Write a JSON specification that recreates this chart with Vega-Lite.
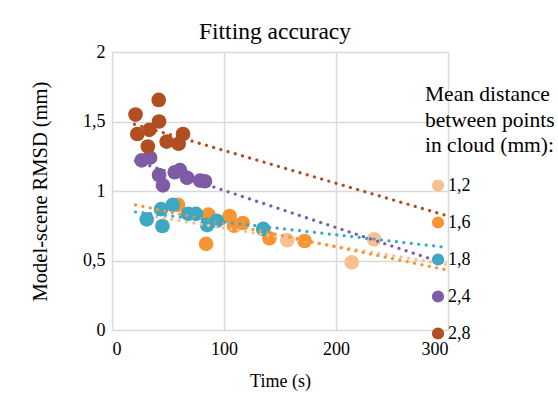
{
  "$schema": "https://vega.github.io/schema/vega-lite/v6.json",
  "autosize": "none",
  "width": 336,
  "height": 278,
  "padding": {"left": 112, "top": 52, "right": 110, "bottom": 69},
  "background": "white",
  "title": {"text": "Fitting accuracy", "font": "Liberation Serif", "fontSize": 23.5, "fontWeight": "normal", "color": "#000000", "anchor": "middle", "offset": 0, "dx": -5},
  "config": {
    "font": "Liberation Serif",
    "view": {"stroke": null},
    "axis": {"labelFont": "Liberation Serif", "titleFont": "Liberation Serif", "labelColor": "#000", "titleColor": "#000", "labelFontSize": 18, "titleFontSize": 18, "titleFontWeight": "normal", "gridColor": "#d9d9d9", "gridWidth": 1.5, "domain": false, "ticks": false}
  },
  "datasets": {
    "points": [
      {"d": "1,2", "t": 156.5, "v": 0.647},
      {"d": "1,2", "t": 214, "v": 0.487},
      {"d": "1,2", "t": 234, "v": 0.652},
      {"d": "1,6", "t": 59, "v": 0.90},
      {"d": "1,6", "t": 86, "v": 0.83},
      {"d": "1,6", "t": 84, "v": 0.62},
      {"d": "1,6", "t": 105, "v": 0.82},
      {"d": "1,6", "t": 109, "v": 0.75},
      {"d": "1,6", "t": 116.7, "v": 0.77},
      {"d": "1,6", "t": 140.5, "v": 0.66},
      {"d": "1,6", "t": 172, "v": 0.64},
      {"d": "1,8", "t": 31, "v": 0.796},
      {"d": "1,8", "t": 45, "v": 0.748},
      {"d": "1,8", "t": 43.8, "v": 0.87},
      {"d": "1,8", "t": 54.2, "v": 0.90},
      {"d": "1,8", "t": 68, "v": 0.835},
      {"d": "1,8", "t": 75, "v": 0.835},
      {"d": "1,8", "t": 85, "v": 0.755},
      {"d": "1,8", "t": 93.5, "v": 0.786},
      {"d": "1,8", "t": 135, "v": 0.727},
      {"d": "2,4", "t": 26.5, "v": 1.22},
      {"d": "2,4", "t": 34, "v": 1.24},
      {"d": "2,4", "t": 42, "v": 1.115},
      {"d": "2,4", "t": 45.5, "v": 1.04},
      {"d": "2,4", "t": 56, "v": 1.135},
      {"d": "2,4", "t": 60.7, "v": 1.15},
      {"d": "2,4", "t": 67, "v": 1.095},
      {"d": "2,4", "t": 78.6, "v": 1.075},
      {"d": "2,4", "t": 83, "v": 1.07},
      {"d": "2,8", "t": 21, "v": 1.55},
      {"d": "2,8", "t": 22.6, "v": 1.41},
      {"d": "2,8", "t": 33.3, "v": 1.44},
      {"d": "2,8", "t": 32, "v": 1.32},
      {"d": "2,8", "t": 41.7, "v": 1.655},
      {"d": "2,8", "t": 42, "v": 1.50},
      {"d": "2,8", "t": 48.8, "v": 1.355},
      {"d": "2,8", "t": 59.5, "v": 1.34},
      {"d": "2,8", "t": 63.4, "v": 1.41}
    ],
    "trends": [
      {"d": "1,2", "t": 40, "v": 0.813},
      {"d": "1,2", "t": 300, "v": 0.47},
      {"d": "1,6", "t": 21, "v": 0.90},
      {"d": "1,6", "t": 300, "v": 0.43},
      {"d": "1,8", "t": 21, "v": 0.849},
      {"d": "1,8", "t": 300, "v": 0.593},
      {"d": "2,4", "t": 21, "v": 1.215},
      {"d": "2,4", "t": 300, "v": 0.47},
      {"d": "2,8", "t": 20, "v": 1.48},
      {"d": "2,8", "t": 300, "v": 0.82}
    ]
  },
  "layer": [
    {
      "data": {"name": "points"},
      "mark": {"type": "circle", "size": 215, "opacity": 1},
      "encoding": {
        "x": {"field": "t", "type": "quantitative", "scale": {"domain": [0, 300], "nice": false}, "axis": {"values": [0, 100, 200, 300], "title": "Time (s)", "labelPadding": 10, "titlePadding": 14, "labelFont": "Liberation Serif", "titleFont": "Liberation Serif"}},
        "y": {"field": "v", "type": "quantitative", "scale": {"domain": [0, 2], "nice": false}, "axis": {"values": [0, 0.5, 1, 1.5, 2], "labelExpr": "replace(format(datum.value, '.1~f'), '.', ',')", "title": "Model-scene RMSD (mm)", "titleFontSize": 20.5, "labelPadding": 7, "titlePadding": 32, "labelFont": "Liberation Serif", "titleFont": "Liberation Serif"}},
        "color": {"field": "d", "type": "nominal",
          "scale": {"domain": ["1,2", "1,6", "1,8", "2,4", "2,8"], "range": ["#F9BF8F", "#F79433", "#3CA8C4", "#7D5CA5", "#B14F22"]},
          "legend": {"title": ["Mean distance", "between points", "in cloud (mm):"], "orient": "none", "legendX": 313, "legendY": 32, "titleFont": "Liberation Serif", "titleFontSize": 21.5, "titleFontWeight": "normal", "titleColor": "#000", "titleLineHeight": 25.5, "titlePadding": 20, "labelFont": "Liberation Serif", "labelFontSize": 18, "labelColor": "#000", "symbolType": "circle", "symbolSize": 115, "symbolOpacity": 1, "symbolOffset": 4, "rowPadding": 19, "labelOffset": 1}
        }
      }
    },
    {
      "data": {"name": "trends"},
      "mark": {"type": "line", "strokeWidth": 3.2, "strokeDash": [0.1, 7.4], "strokeCap": "round"},
      "encoding": {
        "x": {"field": "t", "type": "quantitative"},
        "y": {"field": "v", "type": "quantitative"},
        "color": {"field": "d", "type": "nominal", "legend": null}
      }
    }
  ]
}
